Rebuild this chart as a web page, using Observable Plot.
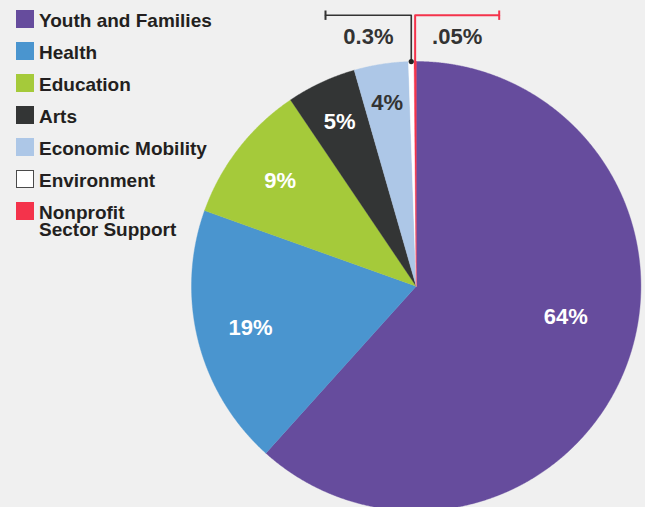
<!DOCTYPE html>
<html><head><meta charset="utf-8">
<script src="https://cdn.jsdelivr.net/npm/d3@7"></script>
<script src="https://cdn.jsdelivr.net/npm/@observablehq/plot@0.6"></script>
<style>
html,body{margin:0;padding:0;background:#f0f0f0;}
#wrap{position:relative;width:645px;height:507px;overflow:hidden;font-family:"Liberation Sans",Arial,Helvetica,sans-serif;}
#chart{position:absolute;left:0;top:0;}
#legend{position:absolute;left:16px;top:10px;width:260px;}
.row{position:absolute;left:0;display:flex;align-items:flex-start;width:max-content;}
.sw{width:18px;height:18px;box-sizing:border-box;flex:none;}
.lb{margin-left:5px;margin-top:2px;font-size:19px;font-weight:bold;line-height:17px;color:#231f20;white-space:pre;}
</style></head><body><div id="wrap"><div id="chart"></div><div id="legend"></div></div>
<script>
// ---- data ----
const categories = ["Youth and Families","Health","Education","Arts","Economic Mobility","Environment","Nonprofit\nSector Support"];
const shares = [61.7, 18.8, 10.1, 5.0, 3.9, 0.4, 0.15];          // slice sizes as drawn
const labels = ["64%","19%","9%","5%","4%","0.3%",".05%"];
const colors = ["#664c9d","#4a95cf","#a5ca3a","#333535","#adc7e7","#ffffff","#f4334b"];
const labelColors = ["#ffffff","#ffffff","#ffffff","#ffffff","#333333","#333333","#333333"];

// ---- layout ----
const W = 645, H = 507, R = 224.7, CX = 415.7, CY = 285.7;
const labelRadius = [0.68, 0.76, 0.766, 0.806, 0.825];
const labelAngleOverride = [101.8 * Math.PI / 180, null, null, null, null];
const leadY = (CY - 14.7) / R, tickHalf = 4.7 / R, labelDrop = 22 / R;
const leadEnds = [{i: 5, x: (325 - CX) / R, color: "#333333", w: 1.6}, {i: 6, x: (498.7 - CX) / R, color: "#f4334b", w: 2}];

const data = categories.map((c, i) => ({category: c, share: shares[i], label: labels[i], color: colors[i], labelColor: labelColors[i]}));
const arcs = d3.pie().sort(null).value(d => d.share)(data);

const slicePts = [];
arcs.forEach((a, i) => {
  slicePts.push({key: i, x: 0, y: 0, color: a.data.color});
  const n = Math.max(2, Math.ceil((a.endAngle - a.startAngle) / 0.004));
  for (let k = 0; k <= n; k++) {
    const t = a.startAngle + (a.endAngle - a.startAngle) * k / n;
    slicePts.push({key: i, x: Math.sin(t), y: Math.cos(t), color: a.data.color});
  }
});

const sliceLabels = arcs.slice(0, 5).map((a, i) => {
  const m = labelAngleOverride[i] ?? (a.startAngle + a.endAngle) / 2;
  return {x: labelRadius[i] * Math.sin(m), y: labelRadius[i] * Math.cos(m), text: a.data.label, color: a.data.labelColor};
});

const leaderPts = [], tickPts = [], smallLabels = [], dots = [];
leadEnds.forEach((L, j) => {
  const a = arcs[L.i], m = (a.startAngle + a.endAngle) / 2;
  const sx = Math.sin(m), sy = Math.cos(m) * (L.i === 6 ? 0.97 : 1);
  leaderPts.push({key: j, x: sx, y: sy, color: L.color, w: L.w});
  leaderPts.push({key: j, x: sx, y: leadY, color: L.color, w: L.w});
  leaderPts.push({key: j, x: L.x, y: leadY, color: L.color, w: L.w});
  tickPts.push({key: j, x: L.x, y1: leadY - tickHalf, y2: leadY + tickHalf, color: L.color, w: L.w});
  smallLabels.push({x: (sx + L.x) / 2, y: leadY - labelDrop, text: a.data.label, color: a.data.labelColor});
  if (L.i === 5) dots.push({x: sx, y: Math.cos(m)});
});

const font = '"Liberation Sans", Arial, Helvetica, sans-serif';
const chart = Plot.plot({
  width: W, height: H, margin: 0,
  x: {domain: [-CX / R, (W - CX) / R], axis: null},
  y: {domain: [-(H - CY) / R, CY / R], axis: null},
  color: {type: "identity"},
  style: {background: "transparent", fontFamily: font},
  marks: [
    Plot.line(slicePts, {x: "x", y: "y", z: "key", fill: "color", stroke: "color", strokeWidth: 0.4, curve: "linear-closed"}),
    Plot.line(leaderPts.filter(d => d.key === 0), {x: "x", y: "y", stroke: "color", strokeWidth: 1.6}),
    Plot.line(leaderPts.filter(d => d.key === 1), {x: "x", y: "y", stroke: "color", strokeWidth: 2}),
    Plot.link(tickPts, {x1: "x", x2: "x", y1: "y1", y2: "y2", stroke: "color", strokeWidth: 2}),
    Plot.dot(dots, {x: "x", y: "y", r: 2.6, fill: "#222222"}),
    Plot.text(sliceLabels, {x: "x", y: "y", text: "text", fill: "color", fontSize: 22, fontWeight: "bold"}),
    Plot.text(smallLabels, {x: "x", y: "y", text: "text", fill: "color", fontSize: 22, fontWeight: "bold"})
  ]
});
document.getElementById("chart").appendChild(chart);

// legend
const leg = document.getElementById("legend");
categories.forEach((c, i) => {
  const row = document.createElement("div");
  row.className = "row";
  row.style.top = (32 * i) + "px";
  const sw = document.createElement("div");
  sw.className = "sw";
  sw.style.background = colors[i];
  if (colors[i] === "#ffffff") sw.style.border = "1.5px solid #4a4a4a";
  const lb = document.createElement("div");
  lb.className = "lb";
  lb.textContent = c;
  row.appendChild(sw); row.appendChild(lb);
  leg.appendChild(row);
});
</script></body></html>
